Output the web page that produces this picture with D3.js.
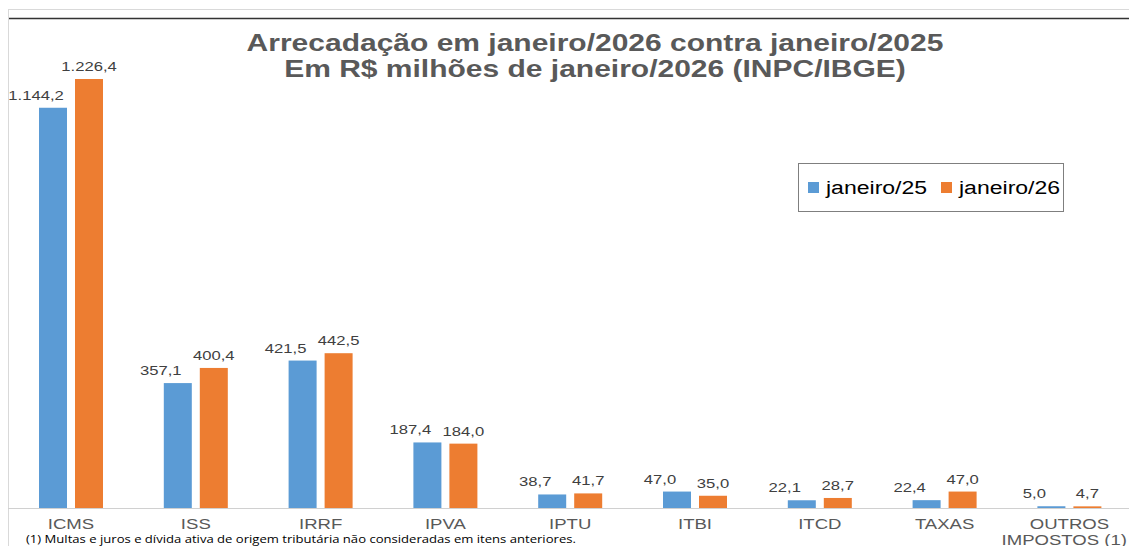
<!DOCTYPE html>
<html>
<head>
<meta charset="utf-8">
<script src="https://cdn.jsdelivr.net/npm/d3@7"></script>
<style>
  body { margin: 0; background: #fff; }
  svg { display: block; }
</style>
</head>
<body>
<div id="chart"></div>
<script>
// dados
const categorias = ["ICMS", "ISS", "IRRF", "IPVA", "IPTU", "ITBI", "ITCD", "TAXAS", "OUTROS IMPOSTOS (1)"];
const jan25 = [1144.2, 357.1, 421.5, 187.4, 38.7, 47.0, 22.1, 22.4, 5.0];
const jan26 = [1226.4, 400.4, 442.5, 184.0, 41.7, 35.0, 28.7, 47.0, 4.7];
const series = ["janeiro/25", "janeiro/26"];
const cores = ["#5B9BD5", "#ED7D31"];

const W = 1129, H = 546;
const baseY = 508;
const SX = 1.28; // o texto original aparece esticado na horizontal
const fonte = "Liberation Sans, Arial, sans-serif";
// no original os rótulos de janeiro/25 ficam deslocados para a esquerda
const deslocRotulo = [-17, 0];

const svg = d3.select("#chart").append("svg")
    .attr("width", W)
    .attr("height", H);

// moldura
svg.append("line").attr("x1", 8).attr("x2", W).attr("y1", 9.5).attr("y2", 9.5)
    .attr("stroke", "#d9d9d9").attr("stroke-width", 1);
svg.append("line").attr("x1", 8).attr("x2", W).attr("y1", 18.5).attr("y2", 18.5)
    .attr("stroke", "#333").attr("stroke-width", 1.5);
svg.append("line").attr("x1", 8.5).attr("x2", 8.5).attr("y1", 9).attr("y2", H)
    .attr("stroke", "#d9d9d9").attr("stroke-width", 1);

// escalas
const x = d3.scaleBand().domain(categorias).range([8.6, 1131.8]).paddingInner(0).paddingOuter(0);
const xs = d3.scaleBand().domain(series).range([-32, 32]).paddingInner(8 / 36).paddingOuter(0);
const y = d3.scaleLinear().domain([0, 1226.4]).range([baseY, 79]);

const fmt = v => {
    const s = v.toFixed(1).split(".");
    return s[0].replace(/\B(?=(\d{3})+(?!\d))/g, ".") + "," + s[1];
};

// eixo
svg.append("line").attr("x1", 8).attr("x2", W).attr("y1", baseY + 0.5).attr("y2", baseY + 0.5)
    .attr("stroke", "#d0d0d0").attr("stroke-width", 1);

const dados = categorias.map((c, i) => ({ cat: c, vals: [jan25[i], jan26[i]] }));

const grupos = svg.selectAll("g.cat")
    .data(dados)
    .enter()
    .append("g")
    .attr("class", "cat")
    .attr("transform", d => `translate(${x(d.cat) + x.bandwidth() / 2},0)`);

grupos.selectAll("rect")
    .data(d => d.vals.map((v, j) => ({ s: series[j], v: v, j: j })))
    .enter()
    .append("rect")
    .attr("x", d => xs(d.s))
    .attr("width", xs.bandwidth())
    .attr("y", d => y(d.v))
    .attr("height", d => baseY - y(d.v))
    .attr("fill", d => cores[d.j]);

grupos.selectAll("text.val")
    .data(d => d.vals.map((v, j) => ({ s: series[j], v: v, j: j })))
    .enter()
    .append("text")
    .attr("class", "val")
    .attr("transform", d => `translate(${xs(d.s) + xs.bandwidth() / 2 + deslocRotulo[d.j]},${y(d.v) - 8}) scale(${SX},1)`)
    .attr("text-anchor", "middle")
    .attr("font-family", fonte)
    .attr("font-size", 13)
    .attr("fill", "#404040")
    .text(d => fmt(d.v));

// rótulos das categorias
grupos.each(function (d) {
    const g = d3.select(this);
    const cx = x(d.cat) + x.bandwidth() / 2;
    const linhas = d.cat === "OUTROS IMPOSTOS (1)" ? ["OUTROS", "IMPOSTOS (1)"] : [d.cat];
    linhas.forEach((l, k) => {
        const t = g.append("text")
            .attr("text-anchor", "middle")
            .attr("font-family", fonte)
            .attr("font-size", 14.5)
            .attr("fill", "#595959")
            .text(l);
        // não deixar o texto passar da borda direita
        const meia = t.node().getComputedTextLength() * SX / 2;
        const dx = Math.min(0, W - 2 - (cx + meia));
        t.attr("transform", `translate(${dx},${528.5 + k * 16.5}) scale(${SX},1)`);
    });
});

// título
const titulo = ["Arrecadação em janeiro/2026 contra janeiro/2025", "Em R$ milhões de janeiro/2026 (INPC/IBGE)"];
titulo.forEach((t, i) => {
    svg.append("text")
        .attr("transform", `translate(595,${51 + i * 25.5}) scale(1.25,1)`)
        .attr("text-anchor", "middle")
        .attr("font-family", fonte)
        .attr("font-weight", "bold")
        .attr("font-size", 24)
        .attr("fill", "#595959")
        .text(t);
});

// legenda
const leg = svg.append("g").attr("transform", "translate(798,163)");
leg.append("rect").attr("x", 0.5).attr("y", 0.5).attr("width", 265).attr("height", 48)
    .attr("fill", "#fff").attr("stroke", "#7f7f7f");
const legX = [10, 143];
series.forEach((s, i) => {
    leg.append("rect").attr("x", legX[i]).attr("y", 19).attr("width", 11).attr("height", 11).attr("fill", cores[i]);
    leg.append("text")
        .attr("transform", `translate(${legX[i] + 18},31) scale(${SX},1)`)
        .attr("font-family", fonte)
        .attr("font-size", 18)
        .attr("fill", "#000")
        .text(s);
});

// nota
svg.append("text")
    .attr("transform", "translate(26,542.5) scale(1.19,1)")
    .attr("font-family", "Open Sans, sans-serif")
    .attr("font-size", 11)
    .attr("fill", "#000")
    .text("(1) Multas e juros e dívida ativa de origem tributária não consideradas em itens anteriores.");
</script>
</body>
</html>
